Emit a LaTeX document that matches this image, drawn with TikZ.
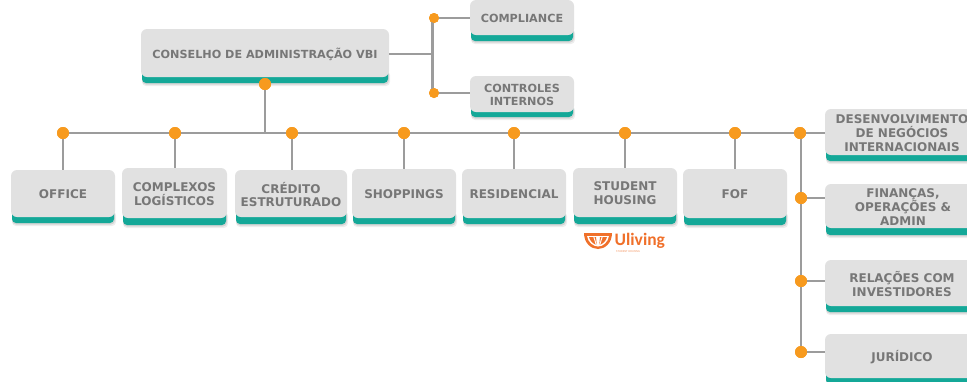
\documentclass[tikz,border=0pt]{standalone}
\usepackage{fontspec}
\setmainfont{DejaVu Sans}
\newfontfamily\logofont{Carlito}
\definecolor{cardgrey}{HTML}{E1E1E1}
\definecolor{cardteal}{HTML}{14A898}
\definecolor{inktext}{HTML}{777777}
\definecolor{wire}{HTML}{9C9C9C}
\definecolor{dotorange}{HTML}{F79A1E}
\definecolor{logoorange}{HTML}{F0702A}
\tikzset{
  x=1pt,y=-1pt,
  wireline/.style={draw=wire,line width=2.2pt},
  stemline/.style={wireline,shorten >=1pt},
  dotmark/.style={circle,fill=dotorange,draw=none,minimum size=12pt,inner sep=0pt},
  smalldot/.style={dotmark,minimum size=10pt},
  cardlabel/.style={font=\bfseries\fontsize{12}{13.8}\selectfont,text=inktext,align=center,inner sep=0pt,anchor=center},
  toplabel/.style={cardlabel/.append style={font=\bfseries\fontsize{11.2}{13.4}\selectfont}},
}
% \card{name}{x0}{y0}{x1}{y1 grey}{y2 teal}{text}
\newcommand{\card}[7]{%
  \fill[black,opacity=.07,rounded corners=4pt] ({#2+1},{#5-6}) rectangle ({#4+1},{#6+3});
  \fill[black,opacity=.10,rounded corners=4pt] ({#2+1},{#5-6}) rectangle ({#4},{#6+1.5});
  \fill[cardteal,rounded corners=4pt] ({#2+1},{#5-8}) rectangle ({#4-1},{#6});
  \fill[cardgrey,rounded corners=6pt] (#2,#3) rectangle (#4,#5);
  \node[cardlabel,minimum width={(#4-#2)*1pt},minimum height={(#5-#3)*1pt}] (#1) at ({(#2+#4)/2},{(#3+#5)/2+1}) {#7};
}
\begin{document}
\begin{tikzpicture}
\useasboundingbox (0,0) rectangle (967,381);
\fill[white] (0,0) rectangle (967,381);
\begin{scope}[toplabel]
\card{board}{141}{29}{389}{77}{83}{CONSELHO DE ADMINISTRAÇÃO VBI}
\card{compl}{470}{0}{574}{35}{41}{COMPLIANCE}
\card{ctrl}{470}{76}{574}{112}{117}{CONTROLES\\INTERNOS}
\end{scope}
\card{office}{11}{170}{115}{217}{223}{OFFICE}
\card{logis}{122}{168}{227}{218}{225}{COMPLEXOS\\LOGÍSTICOS}
\card{cred}{235}{170}{347}{217}{224}{CRÉDITO\\ESTRUTURADO}
\card{shop}{352}{169}{456}{218}{224}{SHOPPINGS}
\card{resi}{462}{169}{566}{218}{224}{RESIDENCIAL}
\card{stud}{573}{168}{677}{217}{224}{STUDENT\\HOUSING}
\card{fof}{683}{169}{787}{218}{225}{FOF}
\card{intl}{825}{109}{979}{155}{161}{DESENVOLVIMENTO\\DE NEGÓCIOS\\INTERNACIONAIS}
\card{fin}{825}{184}{981}{228}{235}{FINANÇAS,\\OPERAÇÕES \&\\ADMIN}
\card{rel}{825}{260}{979}{306}{312}{RELAÇÕES COM\\INVESTIDORES}
\card{jur}{825}{334}{979}{378}{384}{JURÍDICO}
% junction points
\node[dotmark] (dboard) at (265,84) {};
\coordinate (jbus) at (265,133);
\node[dotmark] (d1) at (63,133) {};
\node[dotmark] (d2) at (175,133) {};
\node[dotmark] (d3) at (292,133) {};
\node[dotmark] (d4) at (404,133) {};
\node[dotmark] (d5) at (514,133) {};
\node[dotmark] (d6) at (625,133) {};
\node[dotmark] (d7) at (735,133) {};
\node[dotmark] (d8) at (800,133) {};
\node[dotmark] (r2) at (801,198) {};
\node[dotmark] (r3) at (801,281) {};
\node[dotmark] (r4) at (801,352) {};
\node[smalldot] (t1) at (434,18) {};
\node[smalldot] (t2) at (434,93) {};
% connectors
\draw[wireline] (dboard) -- (jbus);
\draw[wireline] (d1.center) -- (d8.center);
\draw[stemline] (d1.center) -- (d1.center |- office.north);
\draw[stemline] (d2.center) -- (d2.center |- logis.north);
\draw[stemline] (d3.center) -- (d3.center |- cred.north);
\draw[stemline] (d4.center) -- (d4.center |- shop.north);
\draw[stemline] (d5.center) -- (d5.center |- resi.north);
\draw[stemline] (d6.center) -- (d6.center |- stud.north);
\draw[stemline] (d7.center) -- (d7.center |- fof.north);
\draw[wireline] (r4.center) -- (r4.center |- d8.center);
\draw[wireline] (d8.center) -- (intl.west |- d8.center);
\draw[wireline] (r2.center) -- (fin.west |- r2.center);
\draw[wireline] (r3.center) -- (rel.west |- r3.center);
\draw[wireline] (r4.center) -- (jur.west |- r4.center);
\draw[wireline] ([xshift=-1.5pt]t1.center) -- ([xshift=-1.5pt]t1.center |- t2.center);
\draw[wireline] (board.east) -- (board.east -| t1.center);
\draw[wireline] (t1.center) -- (compl.west |- t1.center);
\draw[wireline] (t2.center) -- (ctrl.west |- t2.center);
% junctions above the wires
\foreach \n in {dboard,d1,d2,d3,d4,d5,d6,d7,d8,r2,r3,r4}{\fill[dotorange] (\n) circle (6pt);}
\foreach \n in {t1,t2}{\fill[dotorange] (\n) circle (5pt);}
% Uliving logo
\begin{scope}[shift={(598,233)}]
  \fill[logoorange] (-14,0) -- (14,0) .. controls (14,10) and (7,16) .. (0,16) .. controls (-7,16) and (-14,10) .. (-14,0) -- cycle;
  \fill[white] (-11,3) -- (11,3) .. controls (10,9) and (5,13.5) .. (0,13.5) .. controls (-5,13.5) and (-10,9) .. (-11,3) -- cycle;
  \fill[logoorange] (-9,4) -- (-2,4) -- (-1.2,12) .. controls (-5,11) and (-8,8) .. (-9,4) -- cycle;
  \fill[logoorange] (9,4) -- (2,4) -- (1.2,12) .. controls (5,11) and (8,8) .. (9,4) -- cycle;
  \fill[white] (-4.8,3.5) -- (-3.8,3.5) -- (-1,12.5) -- (-2,12.5) -- cycle;
  \fill[white] (4.8,3.5) -- (3.8,3.5) -- (1,12.5) -- (2,12.5) -- cycle;
\end{scope}
\node[anchor=west,inner sep=0pt,text=logoorange,font=\logofont\bfseries\fontsize{17.5}{18}\selectfont] (logoword) at (614.5,241) {Uliving};
\node[anchor=west,inner sep=0pt,text=logoorange!70,font=\logofont\fontsize{3}{3}\selectfont] (logosub) at (616,251.5) {STUDENT HOUSING};
\end{tikzpicture}
\end{document}
